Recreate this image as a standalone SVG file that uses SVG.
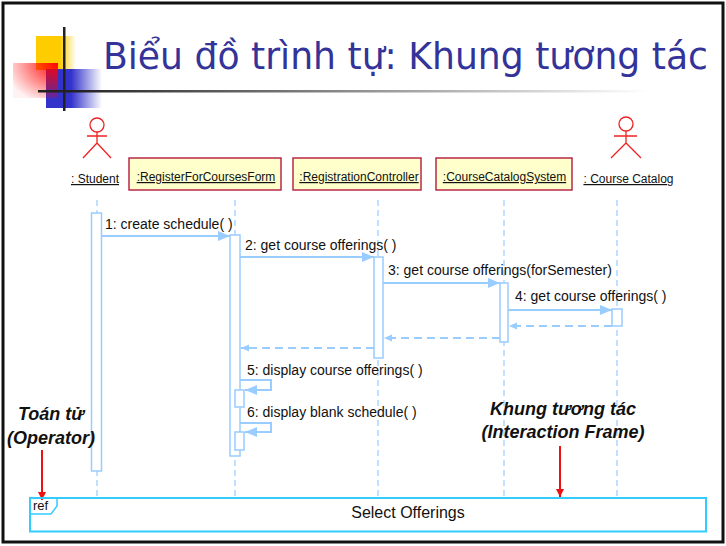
<svg xmlns="http://www.w3.org/2000/svg" width="726" height="546" viewBox="0 0 726 546">
<style>
.lbl{font-family:"Liberation Sans",Arial,sans-serif;font-size:12px;fill:#111;text-decoration:underline}
.msg{font-family:"Liberation Sans",Arial,sans-serif;font-size:14px;fill:#111}
.note{font-family:"Liberation Sans",Arial,sans-serif;font-size:18px;font-weight:bold;font-style:italic;fill:#111}
.box{fill:#ffffcc;stroke:#b8284a;stroke-width:1.5}
.actor{fill:none;stroke:#ee2222;stroke-width:1.3}
.life{stroke:#99ccff;stroke-width:1.2;stroke-dasharray:6 4;fill:none}
.act{fill:#fff;stroke:#99ccff;stroke-width:1.5}
.call{stroke:#99ccff;stroke-width:2;fill:none;marker-end:url(#ah)}
.ret{stroke:#99ccff;stroke-width:2;fill:none;stroke-dasharray:8 5;marker-end:url(#rh)}
.red{stroke:#ee1111;stroke-width:2;fill:none;marker-end:url(#redh)}
</style>
<defs>
<marker id="ah" markerUnits="userSpaceOnUse" markerWidth="12" markerHeight="10" refX="12" refY="5" orient="auto"><path d="M0,0 L12,5 L0,10 z" fill="#99ccff"/></marker>
<marker id="rh" markerUnits="userSpaceOnUse" markerWidth="8" markerHeight="8" refX="8" refY="4" orient="auto"><path d="M0,0.5 L8,4 L0,7.5 z" fill="#99ccff"/></marker>
<marker id="redh" markerUnits="userSpaceOnUse" markerWidth="8" markerHeight="8" refX="8" refY="4" orient="auto"><path d="M0,0 L8,4 L0,8 z" fill="#ee1111"/></marker>
<linearGradient id="gy" x1="0" y1="0" x2="1" y2="0"><stop offset="0.6" stop-color="#ffcc00"/><stop offset="1" stop-color="#ffcc00" stop-opacity="0"/></linearGradient>
<linearGradient id="gb" x1="0" y1="0" x2="1" y2="0"><stop offset="0.45" stop-color="#3333cc"/><stop offset="1" stop-color="#3333cc" stop-opacity="0"/></linearGradient>
<radialGradient id="gr" cx="1" cy="0" r="1.2"><stop offset="0" stop-color="#ff0000"/><stop offset="1" stop-color="#ff0000" stop-opacity="0.05"/></radialGradient>
<linearGradient id="gl" x1="0" y1="0" x2="1" y2="0"><stop offset="0.05" stop-color="#222"/><stop offset="1" stop-color="#222" stop-opacity="0"/></linearGradient>
</defs>
<rect x="0" y="0" width="726" height="546" fill="#fff"/>
<rect x="3" y="3" width="720" height="539" fill="none" stroke="#111" stroke-width="3"/>
<g id="logo">
<rect x="36" y="36" width="40" height="34" fill="url(#gy)"/>
<rect x="46" y="69" width="56" height="39" fill="url(#gb)"/>
<rect x="13" y="63" width="45" height="35" fill="url(#gr)"/>
<rect x="63" y="27" width="2.5" height="84" fill="#222"/>
<rect x="38" y="90" width="610" height="2.5" fill="url(#gl)"/>
</g>
<text x="103" y="69" font-family="'DejaVu Sans Condensed','DejaVu Sans',sans-serif" font-size="38" fill="#333399" textLength="605" lengthAdjust="spacingAndGlyphs">Biểu đồ trình tự: Khung tương tác</text>
<g id="lifelines">
<line class="life" x1="97" y1="200" x2="97" y2="498"/>
<line class="life" x1="235" y1="200" x2="235" y2="498"/>
<line class="life" x1="378" y1="200" x2="378" y2="498"/>
<line class="life" x1="504" y1="200" x2="504" y2="498"/>
<line class="life" x1="617" y1="200" x2="617" y2="498"/>
</g>
<g id="student">
<circle class="actor" cx="97" cy="125" r="7"/>
<path class="actor" d="M97,132 V143 M87,136 H107 M83,158 L97,143 L111,158"/>
<text class="lbl" x="95" y="183" text-anchor="middle">: Student</text>
</g>
<g id="form">
<rect class="box" x="129" y="158" width="152" height="32"/>
<text class="lbl" x="206" y="181" text-anchor="middle">:RegisterForCoursesForm</text>
</g>
<g id="controller">
<rect class="box" x="293" y="158" width="128" height="32"/>
<text class="lbl" x="359" y="181" text-anchor="middle">:RegistrationController</text>
</g>
<g id="system">
<rect class="box" x="436" y="158" width="136" height="32"/>
<text class="lbl" x="504.5" y="181" text-anchor="middle">:CourseCatalogSystem</text>
</g>
<g id="catalog">
<circle class="actor" cx="626" cy="124" r="7"/>
<path class="actor" d="M626,131 V143 M614,136 H637 M611,158 L626,143 L641,158"/>
<text class="lbl" x="628.5" y="183" text-anchor="middle">: Course Catalog</text>
</g>
<g id="activations">
<rect class="act" x="91.5" y="213" width="10" height="258"/>
<rect class="act" x="230" y="235" width="10" height="221"/>
<rect class="act" x="235" y="390" width="9" height="17"/>
<rect class="act" x="235" y="432" width="9" height="18"/>
<rect class="act" x="374" y="257" width="9" height="101"/>
<rect class="act" x="500" y="283" width="8" height="59"/>
<rect class="act" x="612" y="309" width="10" height="17"/>
</g>
<g id="connectors">
<line class="call" x1="102" y1="236" x2="230" y2="236"/>
<line class="call" x1="240" y1="257" x2="374" y2="257"/>
<line class="call" x1="383" y1="283" x2="500" y2="283"/>
<line class="call" x1="508" y1="310" x2="612" y2="310"/>
<line class="ret" x1="612" y1="326" x2="509" y2="326"/>
<line class="ret" x1="500" y1="338" x2="384" y2="338"/>
<line class="ret" x1="374" y1="348" x2="241" y2="348"/>
<path class="call" d="M240,380 H271 V390 H245"/>
<path class="call" d="M240,423 H271 V432 H245"/>
<line class="red" x1="42" y1="450" x2="42" y2="500"/>
<line class="red" x1="560" y1="446" x2="560" y2="497"/>
</g>
<g id="labels">
<text class="msg" x="105" y="229">1: create schedule( )</text>
<text class="msg" x="245" y="250">2: get course offerings( )</text>
<text class="msg" x="388" y="275">3: get course offerings(forSemester)</text>
<text class="msg" x="515" y="301">4: get course offerings( )</text>
<text class="msg" x="247" y="375">5: display course offerings( )</text>
<text class="msg" x="247" y="417">6: display blank schedule( )</text>
</g>
<g id="notes">
<text class="note" x="51" y="420" text-anchor="middle">Toán tử</text>
<text class="note" x="51" y="444" text-anchor="middle">(Operator)</text>
<text class="note" x="563" y="415" text-anchor="middle">Khung tương tác</text>
<text class="note" x="563" y="438" text-anchor="middle">(Interaction Frame)</text>
</g>
<g id="frame">
<rect x="30" y="498" width="676" height="33.5" fill="none" stroke="#33ccff" stroke-width="2"/>
<path d="M30,498 H57 V506 L51,514 H30" fill="none" stroke="#33ccff" stroke-width="1.5"/>
<text x="33" y="510" font-family="'Liberation Sans',Arial,sans-serif" font-size="13" fill="#111">ref</text>
<text x="408" y="518" font-family="'Liberation Sans',Arial,sans-serif" font-size="16" fill="#111" text-anchor="middle">Select Offerings</text>
</g>
</svg>
